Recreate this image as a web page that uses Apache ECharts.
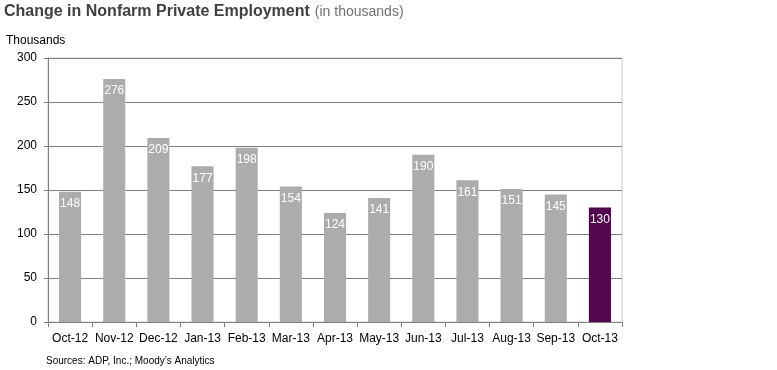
<!DOCTYPE html>
<html><head><meta charset="utf-8">
<script src="https://cdn.jsdelivr.net/npm/echarts@6/dist/echarts.min.js"></script>
<style>html,body{margin:0;padding:0;background:#fff}#c{width:777px;height:370px}</style>
</head><body><div id="c"></div>
<script>
const categories = ['Oct-12','Nov-12','Dec-12','Jan-13','Feb-13','Mar-13','Apr-13','May-13','Jun-13','Jul-13','Aug-13','Sep-13','Oct-13'];
const values = [148,276,209,177,198,154,124,141,190,161,151,145,130];
const yTicks = [0,50,100,150,200,250,300];
const grayColor = '#acacac';
const highlightColor = '#52064e';
const chart = echarts.init(document.getElementById('c'), null, {renderer:'canvas'});
const FF = '"Liberation Sans", Arial, sans-serif';
chart.setOption({
  animation:false,
  title:[
    {text:'{b|Change in Nonfarm Private Employment} {n|(in thousands)}', left:4, top:3, padding:0,
     textStyle:{rich:{b:{fontFamily:FF,fontSize:16,fontWeight:'bold',color:'#404040'},n:{fontFamily:FF,fontSize:14,fontWeight:'normal',color:'#707070'}}}},
    {text:'Thousands', left:6, top:35, padding:0, textStyle:{fontFamily:FF,fontSize:12,fontWeight:'normal',color:'#000'}},
    {text:'Sources: ADP, Inc.; Moody\u2019s Analytics', left:46, top:356, padding:0, textStyle:{fontFamily:FF,fontSize:10,fontWeight:'normal',color:'#000'}}
  ],
  grid:{left:48, right:155, top:58, bottom:48, show:true, borderColor:'#c8c8c8', borderWidth:1},
  xAxis:{type:'category', data:categories,
    axisLine:{lineStyle:{color:'#808080'}},
    axisTick:{show:true, alignWithLabel:false, length:5, lineStyle:{color:'#808080'}},
    axisLabel:{fontFamily:FF, fontSize:12, color:'#000', margin:11, interval:0}},
  yAxis:{type:'value', min:0, max:300, interval:50,
    axisLine:{show:true, lineStyle:{color:'#808080'}},
    axisTick:{show:true, length:4, lineStyle:{color:'#808080'}},
    axisLabel:{fontFamily:FF, fontSize:12, color:'#000', margin:11,
      formatter:v=>yTicks.includes(v)?String(v):''},
    splitLine:{lineStyle:{color:'#808080'}}},
  series:[{type:'bar', barWidth:'50%',
    data: values.map((v,i)=>({value:v, itemStyle:{color: i===values.length-1?highlightColor:grayColor}})),
    label:{show:true, position:'insideTop', distance:6, color:'#fff', fontFamily:FF, fontSize:12}}]
});
</script></body></html>
